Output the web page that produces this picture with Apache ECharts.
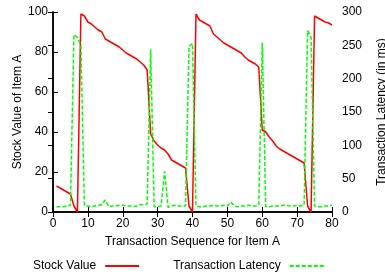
<!DOCTYPE html>
<html>
<head>
<meta charset="utf-8">
<script src="https://cdn.jsdelivr.net/npm/echarts@6/dist/echarts.min.js"></script>
<style>
html,body{margin:0;padding:0;background:#fff;}
#chart{width:385px;height:278px;}
</style>
</head>
<body>
<div id="chart"></div>
<script>
// Transaction sequence numbers
const seq = [1,2,3,4,5,6,7,8,9,10,11,12,13,14,15,16,17,18,19,20,
             21,22,23,24,25,26,27,28,29,30,31,32,33,34,35,36,37,38,39,40,
             41,42,43,44,45,46,47,48,49,50,51,52,53,54,55,56,57,58,59,60,
             61,62,63,64,65,66,67,68,69,70,71,72,73,74,75,76,77,78,79,80];
// Stock value of item A (left axis)
const stockValue = [13,12,11,10,9,3,0,99,98,95,94,92.5,91,90,86.5,85.5,84.5,83.5,82.5,81,
                    79.5,78.5,77.5,76.5,75,73.5,71,39,35.5,33.5,32,31,29,26,25,24,23,22,3,0,
                    99,96,95,94,93,89,87.5,86,84.5,83.5,82.5,81.5,80.5,79.5,77.5,76,75,74,72.5,41,
                    40,37.5,35.5,33,31.5,30.5,29.5,28.5,27.5,26.5,25.5,24.5,3,0,98,97,96,95,94.5,93.5];
// Transaction latency in ms (right axis)
const latency = [8,8,8,9,10,266,262,250,10,9,8,9,10,11,18,8,9,9,10,10,
                 9,9,8,9,11,11,12,244,8,8,9,61,7,9,10,9,9,9,248,253,
                 9,8,8,9,9,10,9,9,10,9,15,9,8,9,9,10,9,9,10,254,
                 8,8,9,9,9,10,10,9,9,10,9,10,272,262,9,8,8,9,9,10];
const xTicks = [0,10,20,30,40,50,60,70,80];
const leftTicks = [0,20,40,60,80,100];
const rightTicks = [0,50,100,150,200,250,300];

const font = 'Liberation Sans, Arial, Helvetica, sans-serif';
const chart = echarts.init(document.getElementById('chart'), null, {renderer:'canvas'});
const pair = (arr) => seq.map((t, i) => [t, arr[i]]);
const axisLine = {show:true, lineStyle:{color:'#000', width:1.5}};
const tickIn = {show:true, inside:true, length:5, lineStyle:{color:'#000', width:1}};

chart.setOption({
  animation:false,
  backgroundColor:'#fff',
  grid:{left:53, right:53, top:12, bottom:66, containLabel:false, outerBoundsMode:'none'},
  legend:{
    left:28, top:255, align:'right', itemWidth:34, itemHeight:10, itemGap:33,
    itemStyle:{opacity:0, borderWidth:0},
    textStyle:{fontFamily:font, fontSize:12, color:'#000', padding:[0,4,0,0]},
    data:['Stock Value','Transaction Latency']
  },
  xAxis:[{
    type:'value', min:xTicks[0], max:xTicks[xTicks.length-1], interval:10,
    name:'Transaction Sequence for Item A', nameLocation:'middle', nameGap:24, nameMoveOverlap:false,
    nameTextStyle:{fontFamily:font, fontSize:12, color:'#000'},
    axisLine:axisLine, axisTick:tickIn, splitLine:{show:false},
    axisLabel:{fontFamily:font, fontSize:12, color:'#000', margin:6}
  },{
    type:'value', position:'top', min:xTicks[0], max:xTicks[xTicks.length-1], interval:10,
    axisLine:axisLine, axisTick:tickIn, axisLabel:{show:false}, splitLine:{show:false}
  }],
  yAxis:[{
    type:'value', min:leftTicks[0], max:leftTicks[leftTicks.length-1], interval:20,
    name:'Stock Value of Item A', nameLocation:'middle', nameGap:29, nameRotate:90, nameMoveOverlap:false,
    nameTextStyle:{fontFamily:font, fontSize:12, color:'#000'},
    axisLine:axisLine, axisTick:tickIn, splitLine:{show:false},
    axisLabel:{fontFamily:font, fontSize:12, color:'#000', margin:5}
  },{
    type:'value', position:'right', min:rightTicks[0], max:rightTicks[rightTicks.length-1], interval:50,
    name:'Transaction Latency (in ms)', nameLocation:'middle', nameGap:44, nameRotate:90, nameMoveOverlap:false,
    nameTextStyle:{fontFamily:font, fontSize:12, color:'#000'},
    axisLine:axisLine, axisTick:tickIn, splitLine:{show:false},
    axisLabel:{fontFamily:font, fontSize:12, color:'#000', margin:10}
  }],
  series:[{
    name:'Stock Value', type:'line', xAxisIndex:0, yAxisIndex:0,
    data:pair(stockValue), showSymbol:false, symbol:'none',
    lineStyle:{color:'#ff0000', width:1.5}, itemStyle:{color:'#ff0000'}
  },{
    name:'Transaction Latency', type:'line', xAxisIndex:0, yAxisIndex:1,
    data:pair(latency), showSymbol:false, symbol:'none',
    lineStyle:{color:'#00ff00', width:1.5, type:[4,2]}, itemStyle:{color:'#00ff00'}
  }]
});
</script>
</body>
</html>
